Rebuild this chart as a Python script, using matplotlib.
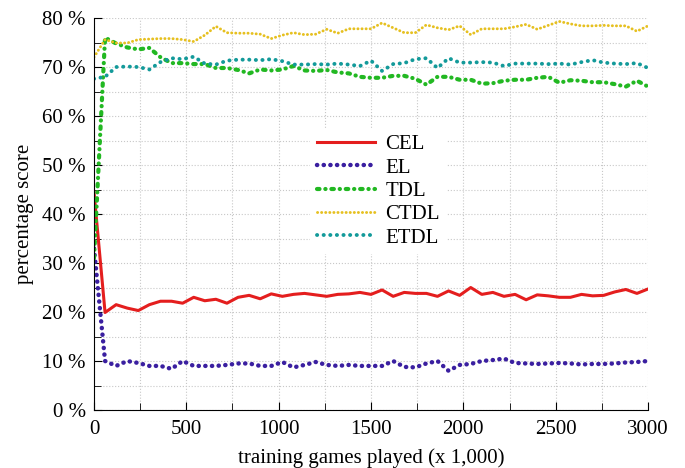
import numpy as np
import matplotlib
matplotlib.use('Agg')
from matplotlib import pyplot as plt
from matplotlib.ticker import MultipleLocator, FuncFormatter

# games played, in thousands (one sample every 60k games)
games = np.arange(0, 3001, 60)

cel = [44.5, 19.9, 21.5, 20.8, 20.3, 21.5, 22.2, 22.2, 21.8, 23.0,
       22.3, 22.6, 21.8, 23.0, 23.4, 22.7, 23.7, 23.2, 23.6, 23.8,
       23.5, 23.2, 23.6, 23.7, 24.0, 23.6, 24.5, 23.2, 24.0, 23.8,
       23.8, 23.2, 24.3, 23.4, 25.0, 23.6, 24.0, 23.2, 23.6, 22.5,
       23.5, 23.3, 23.0, 23.0, 23.6, 23.3, 23.4, 24.1, 24.6, 23.8,
       24.7]

el = [33.0, 10.0, 9.0, 10.0, 9.6, 9.0, 9.0, 8.4, 10.0, 9.0,
      9.0, 9.0, 9.2, 9.5, 9.5, 9.0, 9.0, 9.8, 8.7, 9.2,
      9.8, 9.2, 9.0, 9.2, 9.0, 9.0, 9.0, 10.0, 8.8, 8.7,
      9.5, 10.0, 8.0, 9.2, 9.4, 10.0, 10.2, 10.5, 9.6, 9.5,
      9.4, 9.5, 9.6, 9.5, 9.3, 9.4, 9.4, 9.5, 9.7, 9.8,
      10.0]

tdl = [31.0, 76.0, 74.8, 74.0, 73.6, 73.9, 72.0, 70.8, 70.8, 70.6,
       70.6, 69.8, 69.8, 69.4, 68.7, 69.5, 69.3, 69.5, 70.2, 69.3,
       69.2, 69.4, 68.9, 68.7, 68.0, 67.8, 67.8, 68.2, 68.2, 67.6,
       66.4, 68.0, 68.0, 67.4, 67.4, 66.6, 66.7, 67.2, 67.4, 67.4,
       67.8, 68.0, 66.8, 67.3, 67.2, 66.9, 66.9, 66.5, 66.0, 67.2,
       66.0]

ctdl = [72.0, 75.6, 74.9, 74.9, 75.6, 75.7, 75.8, 75.8, 75.6, 75.2,
        76.5, 78.3, 77.0, 76.9, 76.9, 76.7, 75.8, 76.5, 77.0, 76.6,
        76.7, 77.7, 76.9, 77.8, 77.8, 77.8, 79.0, 78.0, 77.0, 77.0,
        78.6, 78.0, 77.6, 78.4, 76.6, 77.8, 77.8, 77.8, 78.2, 78.7,
        77.7, 78.5, 79.3, 78.8, 78.4, 78.4, 78.5, 78.4, 78.4, 77.3,
        78.4]

etdl = [67.6, 68.0, 70.0, 70.1, 70.0, 69.5, 71.0, 71.8, 71.6, 72.1,
        70.7, 70.5, 71.3, 71.5, 71.5, 71.4, 71.6, 71.2, 70.5, 70.5,
        70.6, 70.5, 70.7, 70.5, 70.2, 71.3, 69.2, 70.6, 70.8, 71.6,
        71.8, 69.8, 71.8, 70.9, 70.9, 71.0, 70.9, 70.2, 70.7, 70.7,
        70.7, 70.6, 70.7, 70.5, 71.0, 71.4, 70.9, 70.7, 70.6, 70.8,
        69.8]

plt.rcParams['font.family'] = ['Liberation Serif', 'DejaVu Serif']
plt.rcParams['font.size'] = 15

fig = plt.figure(figsize=(6.85, 4.68), dpi=100)
ax = fig.add_axes([0.1372, 0.1239, 0.8088, 0.8376])

ax.plot(games, cel, color='#e41e1e', lw=2.2, label='CEL')
ax.plot(games, el, color='#3a1fa0', lw=3.2, ls=(0, (0.05, 1.45)),
        dash_capstyle='round', label='EL')
ax.plot(games, tdl, color='#22b822', lw=3.0, ls=(0, (0.6, 1.4, 0.05, 1.4)),
        dash_capstyle='round', label='TDL')
ax.plot(games, ctdl, color='#e6c020', lw=2.1, ls=(0, (0.05, 1.35)),
        dash_capstyle='round', label='CTDL')
ax.plot(games, etdl, color='#139a9a', lw=2.8, ls=(0, (0.05, 1.65)),
        dash_capstyle='round', label='ETDL')

ax.set_xlim(0, 3000)
ax.set_ylim(0, 80)
ax.xaxis.set_major_locator(MultipleLocator(500))
ax.xaxis.set_minor_locator(MultipleLocator(250))
ax.yaxis.set_major_locator(MultipleLocator(10))
ax.yaxis.set_minor_locator(MultipleLocator(5))
ax.yaxis.set_major_formatter(FuncFormatter(lambda v, p: '%d %%' % v))

ax.grid(which='both', color='#c8c8c8', ls=':', lw=0.8)
ax.set_axisbelow(True)
for s in ['top', 'right']:
    ax.spines[s].set_visible(False)
ax.tick_params(which='both', direction='in', top=False, right=False)
ax.tick_params(which='major', length=6)
ax.tick_params(which='minor', length=5)
ax.tick_params(axis='x', which='major', pad=7)
ax.tick_params(axis='y', which='major', pad=6)

ax.set_xlabel('training games played (x 1,000)', labelpad=7)
ax.set_ylabel('percentage score', labelpad=6)

leg = ax.legend(loc='upper left', bbox_to_anchor=(0.372, 0.745),
                frameon=True, fancybox=False, edgecolor='none',
                framealpha=1, handlelength=2.8, handletextpad=0.5,
                labelspacing=0.18, borderpad=0.3)

plt.savefig('out.png', dpi=100)
